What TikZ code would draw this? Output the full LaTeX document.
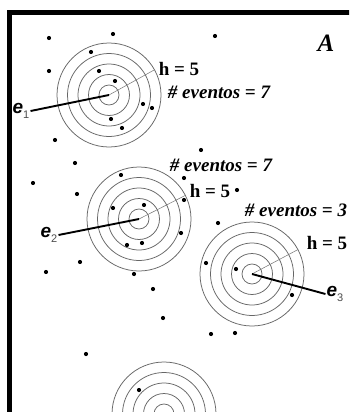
\documentclass[tikz,border=0pt]{standalone}
\usepackage{fontspec}
\setmainfont{Liberation Serif}
\setsansfont{Liberation Sans}
\begin{document}
\begin{tikzpicture}[x=1pt,y=-1pt,inner sep=1pt,
  ring/.style={draw=black!60,line width=0.75pt},
  spoke/.style={draw=black!55,line width=0.5pt},
  arm/.style={line width=1.9pt},
  hlab/.style={font=\fontsize{19}{21}\selectfont\bfseries},
  nlab/.style={font=\fontsize{19}{21}\selectfont\bfseries\itshape},
  elab/.style={font=\fontsize{19}{21}\selectfont\sffamily\bfseries\itshape}]
  \useasboundingbox (0,0) rectangle (349,412);
  \clip (0,0) rectangle (349,412);
  \fill[white] (0,0) rectangle (349,412);
  \draw[line width=5pt] (9.5,440) -- (9.5,12.5) -- (380,12.5);
  \foreach \cx/\cy/\n in {109/95/1,139/219/2,252/274/3,164/414/4}
  {
    \coordinate (c\n) at (\cx,\cy);
    \foreach \r in {10,20.5,31,41.5,52}
    \draw[ring](c\n)circle(\r);
  }
  \foreach \x/\y in {49/38,113/34,215/36,91/52,49/71,99/71,115/81,143/104,152/108,
    111/119,122/128,55/140,201/150,75/163,33/183,77/194,121/175,184/178,237/190,
    184/200,113/208,144/205,181/233,127/245,142/243,218/223,80/262,46/272,134/274,
    153/289,206/263,236/269,292/295,163/318,211/334,235/333,86/354,139/390}
  \fill(\x,\y)circle(2.1);
  \coordinate (t1) at ([shift={(-29:52)}]c1);
  \coordinate (t2) at ([shift={(-27:52)}]c2);
  \coordinate (t3) at ([shift={(-28:52)}]c3);
  \draw[spoke](c1)--(t1);
  \draw[spoke](c2)--(t2);
  \draw[spoke](c3)--(t3);
  \node[hlab] (h1) at (179,69) {h = 5};
  \node[nlab] (n1) at (219,92) {\# eventos = 7};
  \node[nlab] (n2) at (221,165) {\# eventos = 7};
  \node[hlab] (h2) at (210,191) {h = 5};
  \node[nlab] (n3) at (296,210) {\# eventos = 3};
  \node[hlab] (h3) at (327,243) {h = 5};
  \node[font=\fontsize{25}{27}\selectfont\bfseries\itshape] (lbA) at (326,43) {A};
  \node[elab] (e1) at (21,111) {e\raisebox{-5pt}{\fontsize{11}{12}\selectfont\mdseries\upshape\color{black!70}1}};
  \node[elab] (e2) at (49,235) {e\raisebox{-5pt}{\fontsize{11}{12}\selectfont\mdseries\upshape\color{black!70}2}};
  \node[elab] (e3) at (335,294) {e\raisebox{-5pt}{\fontsize{11}{12}\selectfont\mdseries\upshape\color{black!70}3}};
  \draw[arm](c1)--(e1.east);
  \draw[arm](c2)--(e2.east);
  \draw[arm](c3)--(e3.west);
\end{tikzpicture}
\end{document}
